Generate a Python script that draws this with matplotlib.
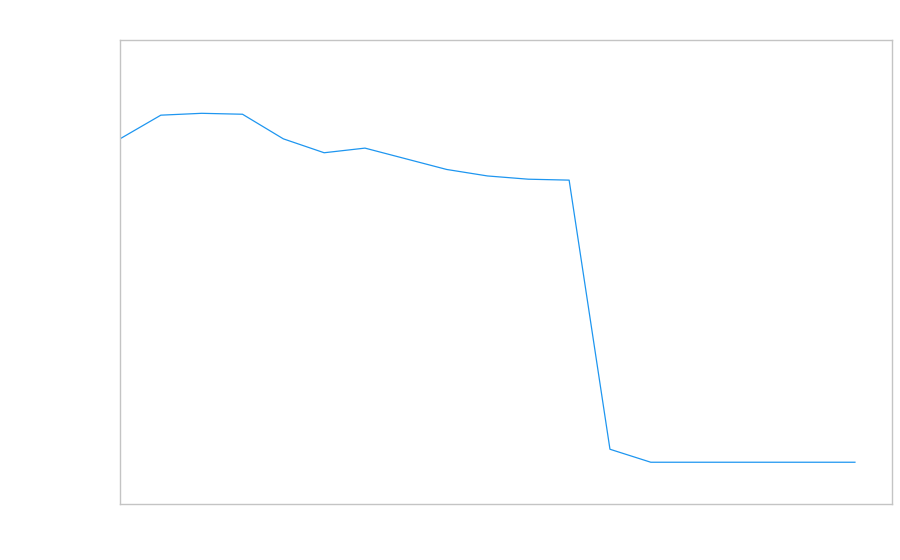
import matplotlib
matplotlib.use("Agg")
import matplotlib.pyplot as plt

x_index = list(range(19))
values = [78.7, 83.8, 84.2, 84.0, 78.7, 75.7, 76.7, 74.4, 72.1, 70.7, 70.0, 69.8,
          11.8, 9.0, 9.0, 9.0, 9.0, 9.0, 9.0]

fig = plt.figure(figsize=(9, 5.6), dpi=100)
ax = fig.add_axes([120/900, 56/560, 772/900, 464/560])
ax.plot(x_index, values, color="#1e96f0", linewidth=0.9)
ax.set_xlim(0, 772/40.83)
ax.set_ylim(0, 100)
ax.set_xticks([])
ax.set_yticks([])
for s in ax.spines.values():
    s.set_color("#c4c4c4")
    s.set_linewidth(1.0)
fig.savefig("out.png", dpi=100)
